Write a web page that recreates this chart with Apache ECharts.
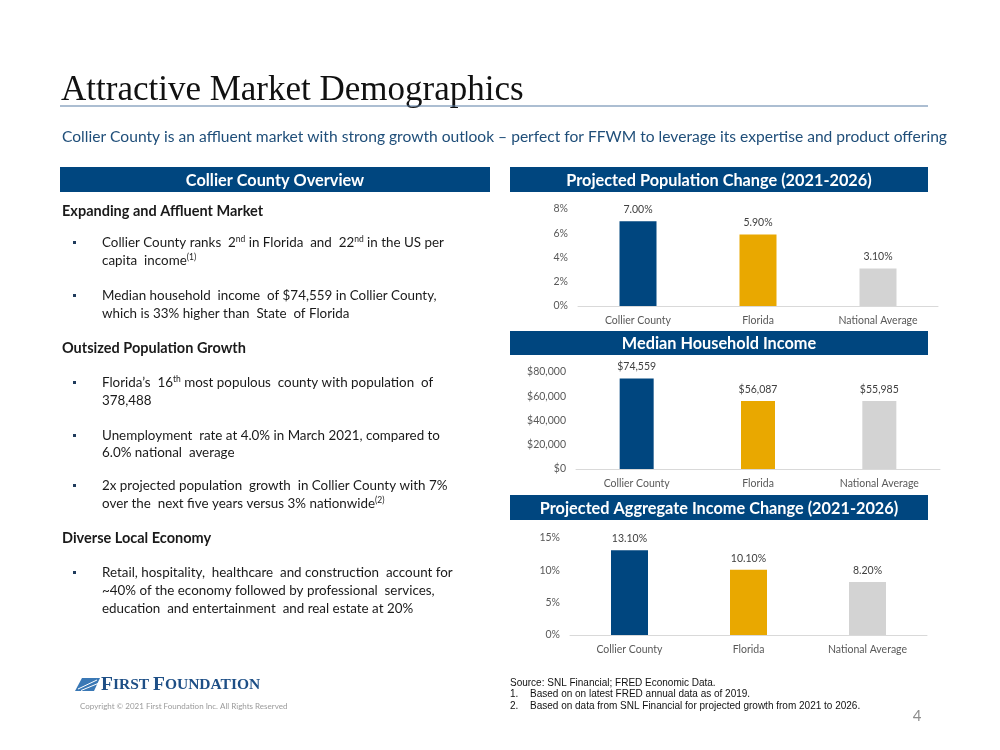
<!DOCTYPE html>
<html><head><meta charset="utf-8">
<script src="https://cdn.jsdelivr.net/npm/echarts@6/dist/echarts.min.js"></script>
<style>html,body{margin:0;padding:0;background:#fff}#c{width:1000px;height:750px}</style>
</head><body><div id="c"></div>
<script>
const categories = ['Collier County', 'Florida', 'National Average'];
const populationChange = [7.0, 5.9, 3.1];
const medianIncome = [74559, 56087, 55985];
const aggregateIncomeChange = [13.1, 10.1, 8.2];
const popTicks = [0, 8, 2];
const incomeTicks = [0, 80000, 20000];
const aggTicks = [0, 15, 5];

const barColors = ['#00467f', '#e9a800', '#d3d3d3'];
const NAVY = '#00467f';
const SANS = 'Lato, "Open Sans", sans-serif';

const chart = echarts.init(document.getElementById('c'));

function items(vals) {
  return vals.map((v, i) => ({ value: v, itemStyle: { color: barColors[i] } }));
}
function money(v) { return '$' + Math.round(v).toLocaleString('en-US'); }

function txt(x, y, text, style, extra) {
  return Object.assign({ type: 'text', x, y, style: Object.assign({ text, font: '13px ' + SANS, fill: '#1a1a1a', textVerticalAlign: 'middle' }, style) }, extra || {});
}
function header(x, y, w, h, label) {
  return [
    { type: 'rect', shape: { x, y, width: w, height: h }, style: { fill: NAVY } },
    txt(x + w / 2, y + h / 2 + 1, label, { font: 'bold 16.3px ' + SANS, fill: '#fff', textAlign: 'center' })
  ];
}

function bodyLine(y, text, bullet) {
  const arr = [];
  if (bullet) arr.push({ type: 'rect', shape: { x: 73, y: y - 2, width: 3, height: 3 }, style: { fill: '#1f3b5c' } });
  arr.push({ type: 'text', x: 102, y: y, style: { text, font: '13.4px ' + SANS, fill: '#1a1a1a', verticalAlign: 'middle', rich: { s: { fontSize: 8.5, fontFamily: SANS, fill: '#1a1a1a', verticalAlign: 'top', lineHeight: 16 } } } });
  return arr;
}
function boldLine(y, text) {
  return txt(62, y, text, { font: 'bold 14.5px ' + SANS });
}

let graphics = [];
// Title
graphics.push(txt(61, 91, 'Attractive Market Demographics', { font: '35px "Liberation Serif", "DejaVu Serif", serif', fill: '#111' }));
graphics.push({ type: 'line', shape: { x1: 60, y1: 106, x2: 928, y2: 106 }, style: { stroke: '#5a7ea6', lineWidth: 1.2 } });
graphics.push(txt(62, 137, 'Collier County is an affluent market with strong growth outlook \u2013 perfect for FFWM to leverage its expertise and product offering', { font: '15.6px ' + SANS, fill: '#1f4e79' }));
// Headers
graphics = graphics.concat(header(60, 167, 430, 25, 'Collier County Overview'));
graphics = graphics.concat(header(510, 167, 418, 25, 'Projected Population Change (2021-2026)'));
graphics = graphics.concat(header(510, 331, 418, 24, 'Median Household Income'));
graphics = graphics.concat(header(510, 495, 418, 25, 'Projected Aggregate Income Change (2021-2026)'));

// Left body
graphics.push(boldLine(211, 'Expanding and Affluent Market'));
graphics = graphics.concat(bodyLine(243, 'Collier County ranks  2{s|nd} in Florida  and  22{s|nd} in the US per', true));
graphics = graphics.concat(bodyLine(261, 'capita  income{s|(1)}', false));
graphics = graphics.concat(bodyLine(296, 'Median household  income  of $74,559 in Collier County,', true));
graphics = graphics.concat(bodyLine(314, 'which is 33% higher than  State  of Florida', false));
graphics.push(boldLine(348, 'Outsized Population Growth'));
graphics = graphics.concat(bodyLine(383, 'Florida\u2019s  16{s|th} most populous  county with population  of', true));
graphics = graphics.concat(bodyLine(401, '378,488', false));
graphics = graphics.concat(bodyLine(436, 'Unemployment  rate at 4.0% in March 2021, compared to', true));
graphics = graphics.concat(bodyLine(453, '6.0% national  average', false));
graphics = graphics.concat(bodyLine(486, '2x projected population  growth  in Collier County with 7%', true));
graphics = graphics.concat(bodyLine(504, 'over the  next five years versus 3% nationwide{s|(2)}', false));
graphics.push(boldLine(538, 'Diverse Local Economy'));
graphics = graphics.concat(bodyLine(573, 'Retail, hospitality,  healthcare  and construction  account for', true));
graphics = graphics.concat(bodyLine(591, '~40% of the economy followed by professional  services,', false));
graphics = graphics.concat(bodyLine(609, 'education  and entertainment  and real estate at 20%', false));

// Footer logo
graphics.push({ type: 'polygon', shape: { points: [[82, 678], [100, 678], [94, 691], [75, 691]] }, style: { fill: '#3a78b5' } });
graphics.push({ type: 'line', shape: { x1: 78, y1: 689, x2: 97, y2: 680 }, style: { stroke: '#fff', lineWidth: 1 } });
graphics.push({ type: 'line', shape: { x1: 81, y1: 690.5, x2: 98, y2: 683.5 }, style: { stroke: '#fff', lineWidth: 1 } });
graphics.push({ type: 'text', x: 101, y: 685, style: { text: '{b|F}IRST {b|F}OUNDATION', font: 'bold 15.5px "Liberation Serif", serif', fill: '#1e4f86', verticalAlign: 'middle', rich: { b: { fontSize: 19.5, fontWeight: 'bold', fontFamily: '"Liberation Serif", serif', fill: '#1e4f86' } } } });
graphics.push(txt(80, 706, 'Copyright \u00a9 2021 First Foundation Inc. All Rights Reserved', { font: '8px ' + SANS, fill: '#9a9a9a' }));
// Sources
const srcFont = '10px "Liberation Sans", Arial, sans-serif';
graphics.push(txt(510, 683, 'Source: SNL Financial; FRED Economic Data.', { font: srcFont, fill: '#111' }));
graphics.push(txt(510, 694, '1.', { font: srcFont, fill: '#111' }));
graphics.push(txt(530, 694, 'Based on on latest FRED annual data as of 2019.', { font: srcFont, fill: '#111' }));
graphics.push(txt(510, 706, '2.', { font: srcFont, fill: '#111' }));
graphics.push(txt(530, 706, 'Based on data from SNL Financial for projected growth from 2021 to 2026.', { font: srcFont, fill: '#111' }));
graphics.push(txt(917, 716, '4', { font: '15px ' + SANS, fill: '#8c8c8c', textAlign: 'center' }));

const axisLabel = { color: '#595959', fontSize: 10.5, fontFamily: SANS };
function xAx(gi) {
  return { type: 'category', gridIndex: gi, data: categories,
    axisLine: { lineStyle: { color: '#d9d9d9' } }, axisTick: { show: false },
    axisLabel: Object.assign({ margin: 9 }, axisLabel) };
}
function yAx(gi, t, fmt) {
  return { type: 'value', gridIndex: gi, min: t[0], max: t[1], interval: t[2],
    splitLine: { show: false }, axisLine: { show: false }, axisTick: { show: false },
    axisLabel: Object.assign({ formatter: fmt, margin: 10 }, axisLabel) };
}
const labelStyle = { show: true, position: 'top', distance: 6, color: '#404040', fontSize: 10.5, fontFamily: SANS };

chart.setOption({
  animation: false,
  grid: [
    { left: 578, width: 360, top: 209, height: 97 },
    { left: 576, width: 364, top: 372, height: 97 },
    { left: 570, width: 357, top: 538, height: 97 }
  ],
  xAxis: [xAx(0), xAx(1), xAx(2)],
  yAxis: [
    yAx(0, popTicks, v => v + '%'),
    yAx(1, incomeTicks, v => money(v)),
    yAx(2, aggTicks, v => v + '%')
  ],
  series: [
    { type: 'bar', xAxisIndex: 0, yAxisIndex: 0, barWidth: 37, data: items(populationChange),
      label: Object.assign({ formatter: p => p.value.toFixed(2) + '%' }, labelStyle) },
    { type: 'bar', xAxisIndex: 1, yAxisIndex: 1, barWidth: 34, data: items(medianIncome),
      label: Object.assign({ formatter: p => money(p.value) }, labelStyle) },
    { type: 'bar', xAxisIndex: 2, yAxisIndex: 2, barWidth: 37, data: items(aggregateIncomeChange),
      label: Object.assign({ formatter: p => p.value.toFixed(2) + '%' }, labelStyle) }
  ],
  graphic: graphics
});
</script></body></html>
